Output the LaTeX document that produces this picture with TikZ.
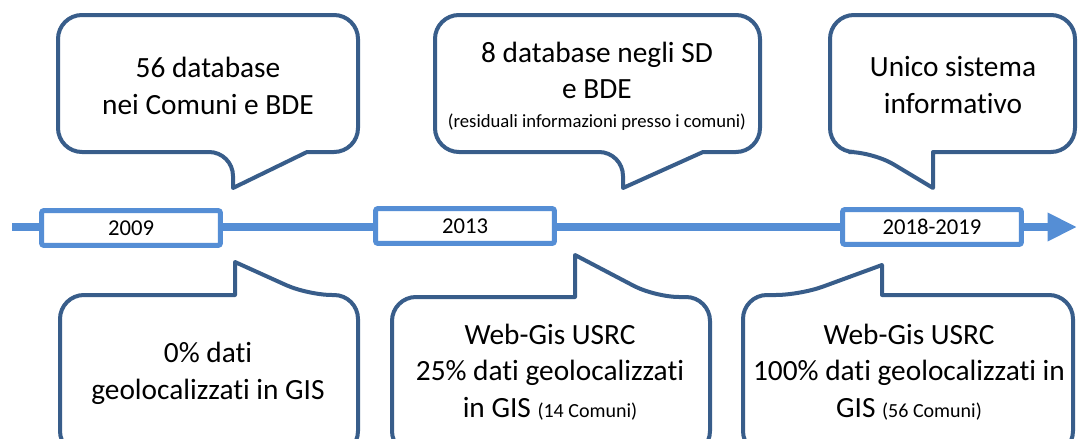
\documentclass[tikz,border=0pt]{standalone}
\usepackage{fontspec}
\setmainfont{Carlito}[Ligatures = NoCommon]
\usetikzlibrary{arrows.meta}

\definecolor{calloutblue}{RGB}{56,93,138}
\definecolor{lineblue}{RGB}{85,142,213}

\tikzset{
	callout/.style = {draw = calloutblue, line width = 3pt, fill = white, line join = round},
	yearbox/.style = {draw = lineblue, line width = 3.75pt, fill = white, rounded corners = 1.5pt,
		minimum width = 134pt, minimum height = 26pt, inner sep = 0pt, font = \fontsize{17}{20}\selectfont},
	bigtext/.style = {align = center, font = \fontsize{22}{27.5}\selectfont},
}
\newcommand{\smalltxt}{\fontsize{14}{16}\selectfont}
\newcommand{\comunitxt}{\fontsize{15}{17}\selectfont}

\begin{document}
\begin{tikzpicture}[x = 0.75pt, y = -0.75pt]
		\useasboundingbox (0, 0) rectangle (1078, 439);
		\clip (0, 0) rectangle (1078, 439);
		%%%%%%%%%%%%%
		\coordinate (tlstart) at (12, 227);
		\coordinate (tlend) at (1077, 227);
		\draw [line width = 6pt, lineblue, -{Triangle[length = 22pt, width = 20pt]}] (tlstart) -- (tlend);
		%%%%%%%%%%%%%
		\node [yearbox] (y2009) at (131, 228) {2009};
		\node [yearbox] (y2013) at (465, 226) {2013};
		\node [yearbox] (y2018) at (932, 227) {2018-2019};
		%%%%%%%%%%%%%
		\draw [callout] (307, 152) [rounded corners = 18pt] -- (358, 152) -- (358, 15) -- (58, 15) -- (58, 152) -- (233, 152) [sharp corners] -- (233, 188) -- cycle;
		\draw [callout] (703, 152) [rounded corners = 18pt] -- (760, 152) -- (760, 15) -- (435, 15) -- (435, 152) -- (623, 152) [sharp corners] -- (623, 188) -- cycle;
		\draw [callout] (933, 152) [rounded corners = 18pt] -- (1075, 152) -- (1075, 15) -- (830, 15) -- (830, 152) -- (873, 152) [sharp corners] -- (933, 188) -- cycle;
		\draw [callout] (235, 295) [rounded corners = 18pt] -- (60, 295) -- (60, 455) -- (358, 455) -- (358, 295) -- (308, 295) [sharp corners] -- (235, 262) -- cycle;
		\draw [callout] (575, 297) [rounded corners = 18pt] -- (392, 297) -- (392, 455) -- (710, 455) -- (710, 297) -- (655, 297) [sharp corners] -- (575, 255) -- cycle;
		\draw [callout] (882, 295) [rounded corners = 18pt] -- (1073, 295) -- (1073, 455) -- (743, 455) -- (743, 295) -- (800, 295) [sharp corners] -- (882, 265) -- cycle;
		%%%%%%%%%%%%%
		\node [bigtext] (db56) at (208, 86) {56 database\\nei Comuni e BDE};
		\node [bigtext] (db8) at (597, 86) {8 database negli SD\\e BDE\\[-6pt]{\smalltxt (residuali informazioni presso i comuni)}};
		\node [bigtext] (unico) at (953, 85) {Unico sistema\\informativo};
		\node [bigtext] (gis0) at (208, 373) {0\% dati\\geolocalizzati in GIS};
		\node [bigtext] (gis25) at (550, 372) {Web-Gis USRC\\25\% dati geolocalizzati\\in GIS {\comunitxt (14 Comuni)}};
		\node [bigtext] (gis100) at (909, 372) {Web-Gis USRC\\100\% dati geolocalizzati in\\GIS {\comunitxt (56 Comuni)}};
\end{tikzpicture}
\end{document}
